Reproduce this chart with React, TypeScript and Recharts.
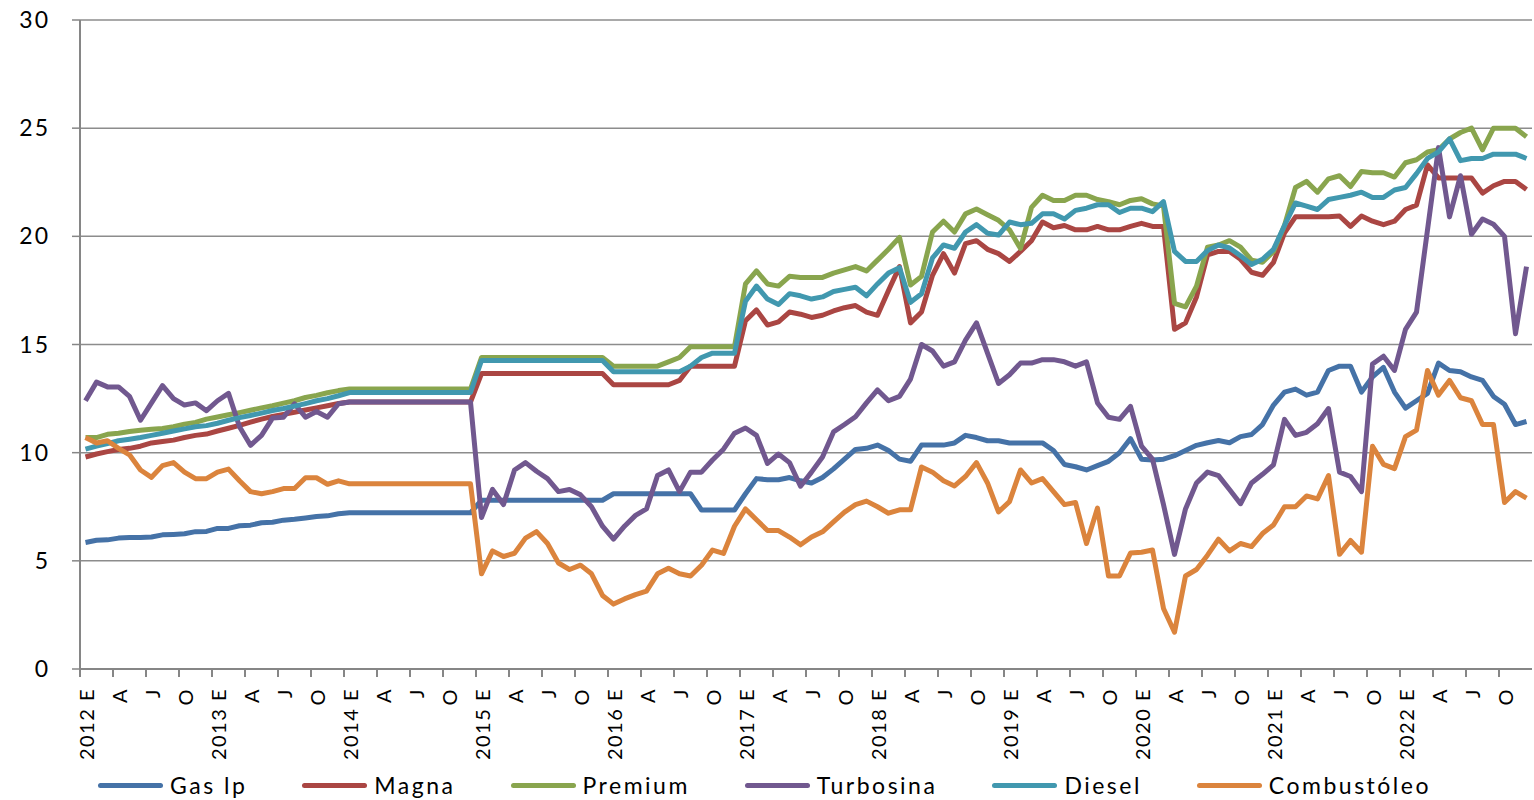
import { LineChart, Line, XAxis, YAxis, CartesianGrid, Legend } from 'recharts';

// monthly prices 2012-2022
const years = [2012, 2013, 2014, 2015, 2016, 2017, 2018, 2019, 2020, 2021, 2022];
const monthInitials = ['E', 'F', 'M', 'A', 'M', 'J', 'J', 'A', 'S', 'O', 'N', 'D'];
const yTicks = [0, 5, 10, 15, 20, 25, 30];

const gasLp = [
  5.85, 5.95, 5.97, 6.05, 6.08, 6.08, 6.1, 6.2, 6.22, 6.25, 6.35, 6.36,
  6.5, 6.5, 6.62, 6.65, 6.76, 6.78, 6.88, 6.92, 6.98, 7.05, 7.08, 7.18,
  7.22, 7.22, 7.22, 7.22, 7.22, 7.22, 7.22, 7.22, 7.22, 7.22, 7.22, 7.22,
  7.8, 7.8, 7.8, 7.8, 7.8, 7.8, 7.8, 7.8, 7.8, 7.8, 7.8, 7.8,
  8.1, 8.1, 8.1, 8.1, 8.1, 8.1, 8.1, 8.1, 7.35, 7.35, 7.35, 7.35,
  8.1, 8.8, 8.75, 8.75, 8.85, 8.7, 8.6, 8.85, 9.25, 9.7, 10.15, 10.2,
  10.35, 10.1, 9.7, 9.6, 10.35, 10.35, 10.35, 10.45, 10.8, 10.7, 10.55, 10.55,
  10.45, 10.45, 10.45, 10.45, 10.1, 9.45, 9.35, 9.2, 9.4, 9.6, 10.0, 10.65,
  9.7, 9.66, 9.7, 9.86, 10.1, 10.34, 10.46, 10.56, 10.46, 10.74, 10.84, 11.3,
  12.2, 12.8, 12.94, 12.66, 12.8, 13.8, 14.0, 14.0, 12.8, 13.5, 13.94, 12.8,
  12.06, 12.4, 12.74, 14.14, 13.8, 13.74, 13.5, 13.34, 12.6, 12.24, 11.3, 11.44,
];

const magna = [
  9.8, 9.94, 10.05, 10.15, 10.2, 10.3, 10.45, 10.52, 10.58, 10.7, 10.8, 10.86,
  11.0, 11.13, 11.26, 11.41, 11.55, 11.67, 11.77, 11.87, 11.97, 12.07, 12.17, 12.27,
  12.34, 12.34, 12.34, 12.34, 12.34, 12.34, 12.34, 12.34, 12.34, 12.34, 12.34, 12.34,
  13.66, 13.66, 13.66, 13.66, 13.66, 13.66, 13.66, 13.66, 13.66, 13.66, 13.66, 13.66,
  13.14, 13.14, 13.14, 13.14, 13.14, 13.14, 13.34, 14.0, 14.0, 14.0, 14.0, 14.0,
  16.1, 16.6, 15.9, 16.05, 16.5, 16.4, 16.25, 16.35, 16.55, 16.7, 16.8, 16.5,
  16.35, 17.5, 18.6, 16.0, 16.5, 18.2, 19.2, 18.3, 19.66, 19.8, 19.4, 19.2,
  18.84, 19.3, 19.8, 20.66, 20.4, 20.5, 20.3, 20.3, 20.46, 20.3, 20.3, 20.46,
  20.6, 20.46, 20.46, 15.7, 16.0, 17.2, 19.14, 19.3, 19.3, 18.94, 18.34, 18.2,
  18.8, 20.16, 20.9, 20.9, 20.9, 20.9, 20.94, 20.46, 20.94, 20.7, 20.54, 20.7,
  21.24, 21.44, 23.3, 22.7, 22.7, 22.7, 22.7, 22.0, 22.34, 22.54, 22.54, 22.16,
];

const premium = [
  10.7, 10.7, 10.85, 10.9, 10.98, 11.04, 11.08, 11.12, 11.2, 11.32, 11.4, 11.55,
  11.65, 11.75, 11.85, 11.96, 12.07, 12.17, 12.29, 12.4, 12.55, 12.65, 12.77, 12.87,
  12.94, 12.94, 12.94, 12.94, 12.94, 12.94, 12.94, 12.94, 12.94, 12.94, 12.94, 12.94,
  14.4, 14.4, 14.4, 14.4, 14.4, 14.4, 14.4, 14.4, 14.4, 14.4, 14.4, 14.4,
  14.0, 14.0, 14.0, 14.0, 14.0, 14.2, 14.4, 14.9, 14.9, 14.9, 14.9, 14.9,
  17.8, 18.4, 17.8, 17.7, 18.15, 18.1, 18.1, 18.1, 18.3, 18.45, 18.6, 18.4,
  18.9, 19.4, 19.95, 17.75, 18.15, 20.2, 20.7, 20.2, 21.04, 21.26, 21.0, 20.74,
  20.3, 19.44, 21.34, 21.9, 21.66, 21.66, 21.9, 21.9, 21.7, 21.6, 21.46, 21.66,
  21.74, 21.5, 21.4, 16.9, 16.74, 17.7, 19.5, 19.6, 19.8, 19.5, 18.9, 18.8,
  19.3, 20.5, 22.26, 22.54, 22.04, 22.66, 22.8, 22.3, 23.0, 22.94, 22.94, 22.74,
  23.4, 23.54, 23.9, 24.0, 24.5, 24.8, 25.0, 24.0, 25.0, 25.0, 25.0, 24.6,
];

const turbosina = [
  12.4, 13.26, 13.04, 13.04, 12.6, 11.5, 12.3, 13.1, 12.5, 12.2, 12.3, 11.94,
  12.4, 12.74, 11.2, 10.34, 10.8, 11.6, 11.64, 12.26, 11.64, 11.9, 11.64, 12.26,
  12.34, 12.34, 12.34, 12.34, 12.34, 12.34, 12.34, 12.34, 12.34, 12.34, 12.34, 12.34,
  7.0, 8.3, 7.6, 9.2, 9.54, 9.14, 8.8, 8.2, 8.3, 8.05, 7.5, 6.6,
  6.0, 6.6, 7.1, 7.4, 8.94, 9.2, 8.2, 9.1, 9.1, 9.66, 10.16, 10.9,
  11.14, 10.8, 9.5, 9.94, 9.54, 8.45, 9.1, 9.8, 10.96, 11.3, 11.66, 12.3,
  12.9, 12.4, 12.6, 13.4, 15.0, 14.7, 14.0, 14.2, 15.2, 16.0, 14.6, 13.2,
  13.6, 14.14, 14.14, 14.3, 14.3, 14.2, 14.0, 14.2, 12.3, 11.64, 11.54, 12.14,
  10.3, 9.7, 7.6, 5.3, 7.4, 8.6, 9.1, 8.94, 8.3, 7.64, 8.6, 9.0,
  9.44, 11.54, 10.8, 10.94, 11.34, 12.04, 9.1, 8.9, 8.2, 14.1, 14.46, 13.8,
  15.7, 16.5, 20.3, 24.1, 20.9, 22.8, 20.1, 20.8, 20.56, 20.0, 15.5, 18.6,
];

const diesel = [
  10.16, 10.3, 10.42, 10.55, 10.62, 10.7, 10.8, 10.9, 11.0, 11.1, 11.2, 11.25,
  11.36, 11.5, 11.62, 11.72, 11.83, 11.95, 12.04, 12.15, 12.27, 12.4, 12.5, 12.63,
  12.78, 12.78, 12.78, 12.78, 12.78, 12.78, 12.78, 12.78, 12.78, 12.78, 12.78, 12.78,
  14.26, 14.26, 14.26, 14.26, 14.26, 14.26, 14.26, 14.26, 14.26, 14.26, 14.26, 14.26,
  13.74, 13.74, 13.74, 13.74, 13.74, 13.74, 13.74, 14.0, 14.4, 14.6, 14.6, 14.6,
  17.0, 17.7, 17.1, 16.85, 17.35, 17.25, 17.1, 17.2, 17.45, 17.55, 17.65, 17.25,
  17.8, 18.3, 18.55, 16.95, 17.35, 19.0, 19.6, 19.45, 20.2, 20.54, 20.14, 20.06,
  20.66, 20.54, 20.6, 21.04, 21.04, 20.8, 21.2, 21.3, 21.46, 21.46, 21.1, 21.3,
  21.3, 21.14, 21.6, 19.3, 18.84, 18.84, 19.34, 19.6, 19.46, 19.1, 18.7, 18.94,
  19.4, 20.5, 21.54, 21.4, 21.24, 21.7, 21.8, 21.9, 22.04, 21.8, 21.8, 22.14,
  22.26, 22.9, 23.6, 23.9, 24.5, 23.5, 23.6, 23.6, 23.8, 23.8, 23.8, 23.6,
];

const combustoleo = [
  10.7, 10.45, 10.55, 10.2, 9.9, 9.2, 8.86, 9.4, 9.54, 9.1, 8.8, 8.8,
  9.1, 9.24, 8.7, 8.2, 8.1, 8.2, 8.34, 8.34, 8.84, 8.84, 8.54, 8.7,
  8.56, 8.56, 8.56, 8.56, 8.56, 8.56, 8.56, 8.56, 8.56, 8.56, 8.56, 8.56,
  4.4, 5.46, 5.2, 5.35, 6.05, 6.35, 5.8, 4.9, 4.6, 4.8, 4.4, 3.4,
  3.0, 3.24, 3.44, 3.6, 4.4, 4.66, 4.4, 4.3, 4.8, 5.5, 5.34, 6.6,
  7.4, 6.9, 6.4, 6.4, 6.1, 5.74, 6.1, 6.34, 6.8, 7.25, 7.6, 7.76,
  7.5, 7.2, 7.36, 7.36, 9.34, 9.1, 8.7, 8.46, 8.9, 9.54, 8.6, 7.26,
  7.74, 9.2, 8.6, 8.8, 8.2, 7.6, 7.7, 5.8, 7.44, 4.3, 4.3, 5.36,
  5.4, 5.5, 2.8, 1.7, 4.3, 4.6, 5.26, 6.0, 5.46, 5.8, 5.66, 6.26,
  6.66, 7.5, 7.5, 8.0, 7.86, 8.94, 5.3, 5.94, 5.4, 10.3, 9.46, 9.26,
  10.74, 11.04, 13.8, 12.66, 13.34, 12.54, 12.4, 11.3, 11.3, 7.7, 8.2, 7.9,
];

const series = [
  { key: 'gasLp', name: 'Gas lp', color: '#4572A7', values: gasLp },
  { key: 'magna', name: 'Magna', color: '#AA4643', values: magna },
  { key: 'premium', name: 'Premium', color: '#89A54E', values: premium },
  { key: 'turbosina', name: 'Turbosina', color: '#71588F', values: turbosina },
  { key: 'diesel', name: 'Diesel', color: '#4198AF', values: diesel },
  { key: 'combustoleo', name: 'Combustóleo', color: '#DB843D', values: combustoleo },
];

const tickLabels = years.flatMap((y) => monthInitials.map((m, i) => (i === 0 ? `${y} ${m}` : m)));

const data = tickLabels.map((_, idx) => {
  const row: Record<string, number> = { idx };
  series.forEach((s) => {
    row[s.key] = s.values[idx];
  });
  return row;
});

const axisGray = '#868686';
const font = 'Lato, "Open Sans", sans-serif';

const MonthTick = ({ x, y, payload }: any) => (
  <g>
    <line x1={x - 5.5} x2={x - 5.5} y1={y - 19} y2={y - 11} stroke={axisGray} strokeWidth={2} />
    <text
      x={x}
      y={y}
      transform={`rotate(-90, ${x}, ${y})`}
      textAnchor="end"
      dominantBaseline="central"
      fill="#000"
      fontSize={20}
      fontFamily={font}
      letterSpacing={1.5}
    >
      {tickLabels[payload.value]}
    </text>
  </g>
);

const LegendRow = () => (
  <div style={{ display: 'flex', alignItems: 'center', height: 30, paddingLeft: 98, gap: 55 }}>
    {series.map((s) => (
      <div key={s.key} style={{ display: 'flex', alignItems: 'center' }}>
        <span style={{ display: 'inline-block', width: 65, height: 5, borderRadius: 3, background: s.color, marginRight: 7 }} />
        <span style={{ fontFamily: font, fontSize: 23, letterSpacing: 2.5, color: '#000', lineHeight: '30px' }}>{s.name}</span>
      </div>
    ))}
  </div>
);

export default function App() {
  return (
    <div style={{ width: 1534, height: 800, background: '#fff' }}>
      <style>{'body{margin:0}'}</style>
      <LineChart width={1534} height={800} data={data} margin={{ top: 20, right: 2, bottom: 0, left: 0 }}>
        <CartesianGrid vertical={false} stroke="#8c8c8c" strokeWidth={1.5} />
        <XAxis
          dataKey="idx"
          interval={2}
          height={101}
          padding={{ left: 5.5, right: 5.5 }}
          tickSize={8}
          tickMargin={11}
          tickLine={false}
          axisLine={{ stroke: axisGray, strokeWidth: 2 }}
          tick={<MonthTick />}
        />
        <YAxis
          domain={[0, 30]}
          ticks={yTicks}
          interval={0}
          width={80}
          tickSize={8}
          tickMargin={22}
          axisLine={{ stroke: axisGray, strokeWidth: 2 }}
          tickLine={{ stroke: axisGray, strokeWidth: 1.5 }}
          tick={{ fill: '#000', fontSize: 23, fontFamily: font, letterSpacing: 2 }}
        />
        <Legend verticalAlign="bottom" content={<LegendRow />} wrapperStyle={{ left: 0, width: 1534 }} />
        {series.map((s) => (
          <Line
            key={s.key}
            type="linear"
            dataKey={s.key}
            name={s.name}
            stroke={s.color}
            strokeWidth={5}
            strokeLinejoin="round"
            dot={false}
            activeDot={false}
            isAnimationActive={false}
          />
        ))}
      </LineChart>
    </div>
  );
}
